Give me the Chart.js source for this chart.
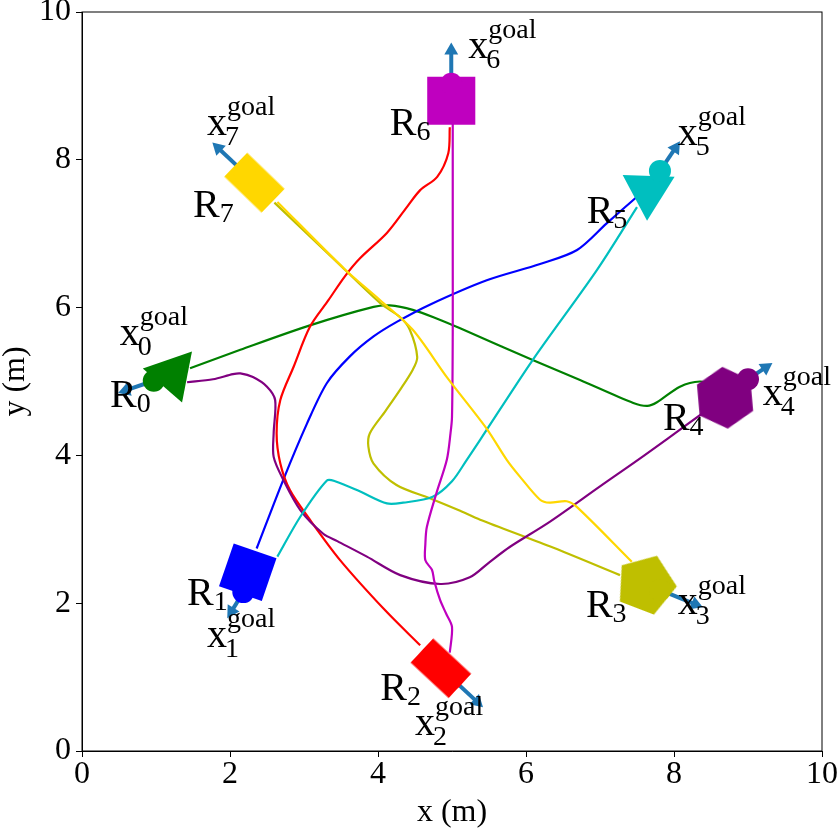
<!DOCTYPE html>
<html>
<head>
<meta charset="utf-8">
<script src="https://cdn.jsdelivr.net/npm/chart.js@4.4.0/dist/chart.umd.min.js"></script>
<style>
  html, body { margin: 0; padding: 0; background: #fff; }
  .wrap { width: 837px; height: 829px; }
</style>
</head>
<body>
<div class="wrap"><canvas id="myChart"></canvas></div>
<script>
// robot trajectories (m), each one from its start to where the robot is now
const path0 = [[8.6, 4.95], [8.35, 5.0], [8.08, 4.93], [7.77, 4.72], [7.64, 4.67], [7.45, 4.71], [6.73, 5.02], [6.09, 5.29], [5.11, 5.72], [4.8, 5.85], [4.47, 5.97], [4.16, 6.03], [3.94, 6.01], [3.08, 5.76], [2.14, 5.43], [1.46, 5.18]]
const path1 = [[7.5, 7.5], [7.09, 7.14], [6.69, 6.78], [6.19, 6.59], [5.47, 6.37], [4.7, 6.04], [4.26, 5.81], [3.94, 5.61], [3.62, 5.34], [3.31, 4.98], [3.04, 4.43], [2.72, 3.67], [2.36, 2.74]]
const path2 = [[4.97, 8.44], [4.95, 8.09], [4.8, 7.77], [4.57, 7.59], [4.39, 7.36], [4.12, 7.01], [3.76, 6.67], [3.55, 6.42], [3.33, 6.1], [3.08, 5.74], [2.86, 5.2], [2.68, 4.75], [2.63, 4.3], [2.68, 3.89], [2.81, 3.53], [3.08, 3.13], [3.49, 2.58], [4.1, 1.9], [4.57, 1.43]]
const path3 = [[2.6, 7.42], [3.39, 6.67], [4.03, 6.06], [4.3, 5.87], [4.43, 5.7], [4.53, 5.33], [4.47, 5.16], [4.3, 4.89], [4.1, 4.6], [3.89, 4.3], [3.87, 4.12], [3.94, 3.89], [4.25, 3.6], [4.7, 3.42], [5.11, 3.25], [5.38, 3.13], [6.32, 2.77], [7.27, 2.38]]
const path4 = [[1.42, 4.99], [1.77, 5.03], [2.04, 5.1], [2.14, 5.11], [2.31, 5.06], [2.5, 4.93], [2.61, 4.75], [2.59, 4.3], [2.59, 3.98], [2.72, 3.67], [2.95, 3.26], [3.26, 2.94], [3.45, 2.84], [3.85, 2.63], [4.3, 2.38], [4.84, 2.26], [5.24, 2.35], [5.5, 2.55], [5.78, 2.76], [6.32, 3.1], [7.0, 3.58], [7.6, 4.0], [8.22, 4.45], [8.5, 4.65]]
const path5 = [[2.64, 2.63], [2.95, 3.17], [3.31, 3.66], [3.42, 3.65], [3.76, 3.51], [4.12, 3.35], [4.34, 3.36], [4.74, 3.44], [5.0, 3.65], [5.2, 3.94], [5.38, 4.21], [6.09, 5.29], [6.96, 6.51], [7.5, 7.36]]
const path6 = [[4.97, 1.33], [5.0, 1.68], [4.92, 1.86], [4.84, 2.04], [4.76, 2.3], [4.73, 2.45], [4.64, 2.58], [4.64, 2.8], [4.66, 3.03], [4.79, 3.49], [4.93, 3.94], [4.98, 4.3], [5.0, 4.52], [5.01, 5.66], [5.01, 6.78], [5.01, 8.5]]
const path7 = [[7.43, 2.56], [6.69, 3.3], [6.55, 3.38], [6.32, 3.36], [6.19, 3.4], [5.92, 3.71], [5.74, 3.94], [5.47, 4.36], [4.93, 5.06], [4.47, 5.7], [4.03, 6.1], [3.55, 6.52], [2.64, 7.43]]

// robots now: body centre, heading dot, body rotation (deg)
const robotX = [1.22, 2.24, 4.85, 7.62, 8.69, 7.65, 4.99, 2.33]
const robotY = [5.10, 2.42, 1.12, 2.25, 4.78, 7.58, 8.80, 7.69]
const robotTurn = [41, 19, 43, 21, -5, 182, 0, 44]
const dotX = [0.97, 2.18, 5.0, 7.81, 9.0, 7.81, 4.99, 2.20]
const dotY = [5.01, 2.15, 0.98, 2.18, 5.03, 7.85, 9.03, 7.82]

// goal direction arrows
const arrowX0 = [0.97, 2.18, 5.0, 7.81, 9.0, 7.81, 4.99, 2.20]
const arrowY0 = [5.01, 2.15, 0.98, 2.18, 5.03, 7.85, 9.03, 7.82]
const arrowX1 = [0.59, 2.02, 5.34, 8.29, 9.24, 8.02, 4.99, 1.84]
const arrowY1 = [4.88, 1.89, 0.665, 1.985, 5.19, 8.16, 9.48, 8.16]

// text anchors
const robotLabelX = [0.38, 1.42, 4.03, 6.81, 7.85, 6.82, 4.16, 1.50]
const robotLabelY = [4.65, 1.98, 0.69, 1.81, 4.34, 7.14, 8.34, 7.23]
const goalLabelX = [0.51, 1.69, 4.50, 8.05, 9.20, 8.05, 5.22, 1.69]
const goalLabelY = [5.49, 1.41, 0.22, 1.85, 4.68, 8.20, 9.38, 8.34]

const colors = ['#008000', '#0000ff', '#ff0000', '#bfbf00', '#800080', '#00bfbf', '#bf00bf', '#ffd700']
const arrowColor = '#1f77b4'
const serif = '"Liberation Serif", "Times New Roman", serif'

function shapeCanvas(kind, color) {
  let c = document.createElement('canvas')
  c.width = 66
  c.height = 66
  let g = c.getContext('2d')
  g.fillStyle = color
  g.translate(33, 33)
  if (kind === 'rect') {
    g.fillRect(-26, -16.5, 52, 33)
  } else {
    let n = kind === 'pentagon' ? 5 : 6
    g.beginPath()
    for (let k = 0; k < n; k++) {
      let a = -Math.PI / 2 + k * 2 * Math.PI / n
      g.lineTo(Math.cos(a) * 31, Math.sin(a) * 31)
    }
    g.closePath()
    g.fill()
  }
  return c
}

const shapes = [
  'triangle', 'rect', shapeCanvas('rect', colors[2]), shapeCanvas('pentagon', colors[3]),
  shapeCanvas('hexagon', colors[4]), 'triangle', 'rect', shapeCanvas('rect', colors[7])
]
const shapeRadius = [30, 32, 30, 30, 30, 30, 34, 30]

const paths = [path0, path1, path2, path3, path4, path5, path6, path7]
let datasets = []

paths.forEach((p, i) => {
  datasets.push({
    data: p.map(pt => ({ x: pt[0], y: pt[1] })),
    showLine: true,
    borderColor: colors[i],
    borderWidth: 2.2,
    pointRadius: 0,
    tension: 0.3,
    order: 27 - i
  })
})

for (let i = 0; i < arrowX0.length; i++) {
  datasets.push({
    data: [{ x: arrowX0[i], y: arrowY0[i] }, { x: arrowX1[i], y: arrowY1[i] }],
    showLine: true,
    borderColor: arrowColor,
    borderWidth: 4,
    backgroundColor: arrowColor,
    pointRadius: [0, 8],
    pointBorderWidth: 0,
    pointStyle: 'triangle',
    pointRotation: ctx => {
      if (ctx.dataIndex === 0) return 0
      let d = ctx.dataset.data
      let sx = ctx.chart.scales.x, sy = ctx.chart.scales.y
      let dx = sx.getPixelForValue(d[1].x) - sx.getPixelForValue(d[0].x)
      let dy = sy.getPixelForValue(d[1].y) - sy.getPixelForValue(d[0].y)
      return Math.atan2(dy, dx) * 180 / Math.PI + 90
    },
    order: 10
  })
}

datasets.push({
  data: robotX.map((x, i) => ({ x: x, y: robotY[i] })),
  pointStyle: shapes,
  pointRadius: shapeRadius,
  pointRotation: robotTurn,
  backgroundColor: colors,
  pointBorderWidth: 0,
  order: 5
})

datasets.push({
  data: dotX.map((x, i) => ({ x: x, y: dotY[i] })),
  pointStyle: 'circle',
  pointRadius: 11,
  backgroundColor: colors,
  pointBorderWidth: 0,
  order: 4
})

const labels = {
  id: 'labels',
  afterDatasetsDraw(chart) {
    const { ctx } = chart
    const sx = chart.scales.x, sy = chart.scales.y
    ctx.save()
    ctx.fillStyle = '#000'
    ctx.textAlign = 'left'
    ctx.textBaseline = 'alphabetic'
    for (let i = 0; i < robotLabelX.length; i++) {
      let px = sx.getPixelForValue(robotLabelX[i])
      let py = sy.getPixelForValue(robotLabelY[i])
      ctx.font = '40px ' + serif
      ctx.fillText('R', px, py)
      let w = ctx.measureText('R').width
      ctx.font = '28px ' + serif
      ctx.fillText(String(i), px + w, py + 5)

      px = sx.getPixelForValue(goalLabelX[i])
      py = sy.getPixelForValue(goalLabelY[i])
      ctx.font = '40px ' + serif
      ctx.fillText('x', px, py)
      w = ctx.measureText('x').width
      ctx.font = '28px ' + serif
      ctx.fillText(String(i), px + w - 2, py + 10)
      ctx.fillText('goal', px + w, py - 20)
    }
    ctx.restore()
  }
}

const frame = {
  id: 'frame',
  afterDraw(chart) {
    const { ctx, chartArea: a } = chart
    ctx.save()
    ctx.strokeStyle = '#000'
    ctx.lineWidth = 1
    ctx.strokeRect(a.left, a.top, a.right - a.left, a.bottom - a.top)
    ctx.restore()
  }
}

const ctx = document.getElementById('myChart')

new Chart(ctx, {
  type: 'scatter',
  data: { datasets: datasets },
  options: {
    responsive: true,
    maintainAspectRatio: false,
    animation: false,
    events: [],
    layout: { autoPadding: false, padding: { left: 0, right: 15, top: 12, bottom: 0 } },
    plugins: { legend: { display: false }, tooltip: { enabled: false } },
    scales: {
      x: {
        type: 'linear',
        min: 0,
        max: 10,
        ticks: { stepSize: 2, color: '#000', font: { family: serif, size: 32, lineHeight: 1 }, padding: 2, maxRotation: 0 },
        grid: { drawOnChartArea: false, drawTicks: true, tickLength: 6, color: '#000' },
        border: { display: true, color: '#000', width: 1 },
        title: { display: true, text: 'x (m)', color: '#000', font: { family: serif, size: 32, lineHeight: 1 }, padding: 0 },
        afterFit(s) {
          s.height = 78
          s.paddingLeft = 0
          s.paddingRight = 0
        }
      },
      y: {
        type: 'linear',
        min: 0,
        max: 10,
        ticks: { stepSize: 2, color: '#000', font: { family: serif, size: 32, lineHeight: 1 }, padding: 5 },
        grid: { drawOnChartArea: false, drawTicks: true, tickLength: 6, color: '#000' },
        border: { display: true, color: '#000', width: 1 },
        title: { display: true, text: 'y (m)', color: '#000', font: { family: serif, size: 32, lineHeight: 1 }, padding: 0 },
        afterFit(s) {
          s.width = 82
          s.paddingTop = 0
          s.paddingBottom = 0
        }
      }
    }
  },
  plugins: [labels, frame]
})
</script>
</body>
</html>
